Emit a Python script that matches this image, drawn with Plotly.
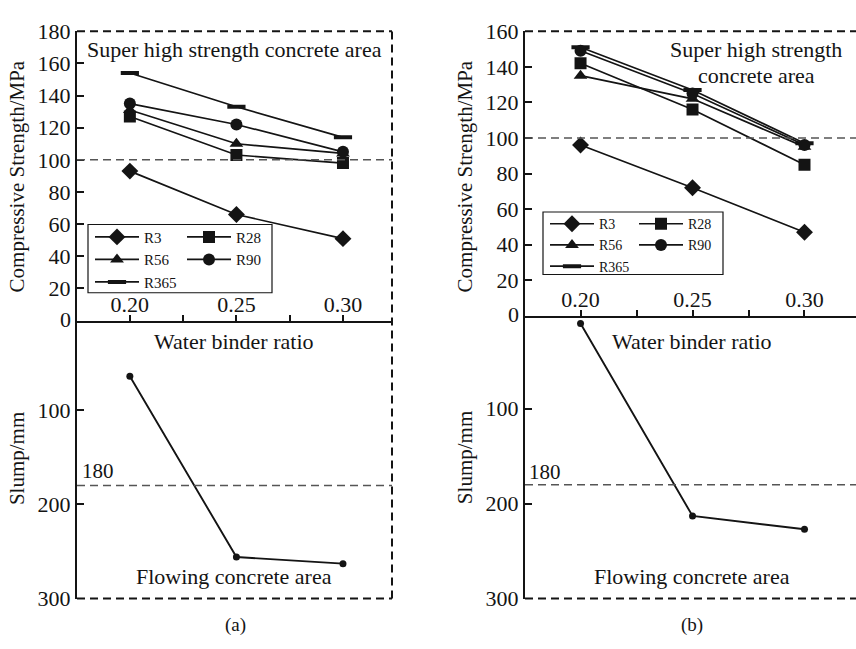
import plotly.graph_objects as go

W, H = 856, 649

# ---------------- data ----------------
wb = [0.20, 0.25, 0.30]
series_names = ["R3", "R28", "R56", "R90", "R365"]
symbols = {"R3": "diamond", "R28": "square", "R56": "triangle-up", "R90": "circle", "R365": "line-ew"}

# panel (a) compressive strength (MPa)
a_R3 = [93, 66, 51]
a_R28 = [127, 103, 98]
a_R56 = [131, 110, 104]
a_R90 = [135, 122, 105]
a_R365 = [154, 133, 114]
# panel (a) slump (mm)
a_slump = [64, 256, 263]

# panel (b) compressive strength (MPa)
b_R3 = [96, 72, 47]
b_R28 = [142, 116, 85]
b_R56 = [135, 122, 95]
b_R90 = [149, 125, 96]
b_R365 = [151, 127, 97]
# panel (b) slump (mm)
b_slump = [10, 213, 227]

strength_limit = 100
slump_limit = 180

a_strength = {"R3": a_R3, "R28": a_R28, "R56": a_R56, "R90": a_R90, "R365": a_R365}
b_strength = {"R3": b_R3, "R28": b_R28, "R56": b_R56, "R90": b_R90, "R365": b_R365}

FONT = "Liberation Serif"
INK = "#141414"

def px_x(p):
    return p / W

def px_y(p):
    return 1 - p / H

fig = go.Figure()

legend_of = {
    ("a", "R3"): "legend", ("a", "R56"): "legend", ("a", "R365"): "legend",
    ("a", "R28"): "legend2", ("a", "R90"): "legend2",
    ("b", "R3"): "legend3", ("b", "R56"): "legend3", ("b", "R365"): "legend3",
    ("b", "R28"): "legend4", ("b", "R90"): "legend4",
}

order = ["R3", "R56", "R365", "R28", "R90"]
for panel, data, xa, ya in [("a", a_strength, "x", "y"), ("b", b_strength, "x3", "y3")]:
    for name in order:
        sym = symbols[name]
        if sym == "line-ew":
            marker = dict(symbol=sym, size=13, color=INK, line=dict(width=4, color=INK))
        else:
            sz = {"diamond": 13, "square": 12, "triangle-up": 12, "circle": 12}[sym]
            marker = dict(symbol=sym, size=sz, color=INK, line=dict(width=0))
        fig.add_trace(go.Scatter(
            x=wb, y=data[name], name=name, mode="lines+markers",
            line=dict(color=INK, width=1.7), marker=marker,
            xaxis=xa, yaxis=ya, legend=legend_of[(panel, name)],
        ))

fig.add_trace(go.Scatter(x=wb, y=a_slump, mode="lines+markers", showlegend=False,
                         line=dict(color=INK, width=1.9), marker=dict(size=7, color=INK),
                         xaxis="x2", yaxis="y2"))
fig.add_trace(go.Scatter(x=wb, y=b_slump, mode="lines+markers", showlegend=False,
                         line=dict(color=INK, width=1.9), marker=dict(size=7, color=INK),
                         xaxis="x4", yaxis="y4"))

# ---------------- axes ----------------
tickfont = dict(family=FONT, size=22, color=INK)
xr = [0.1752, 0.3230]

def x_top(domain):
    return dict(domain=domain, range=xr, showline=True, linecolor=INK, linewidth=2,
                ticks="inside", ticklen=6, tickwidth=2, tickcolor=INK,
                tickmode="linear", tick0=0.2, dtick=0.05, tickformat=".2f",
                ticklabelposition="inside", tickfont=tickfont,
                minor=dict(ticks="inside", ticklen=6, tickwidth=2, tickcolor=INK, dtick=0.025, tick0=0.2),
                showgrid=False, zeroline=False, fixedrange=True)

def x_bot(domain, anchor):
    return dict(domain=domain, range=xr, visible=False, anchor=anchor, fixedrange=True)

def y_axis(domain, rng, vals, anchor):
    return dict(domain=domain, range=rng, showline=True, linecolor=INK, linewidth=2,
                ticks="inside", ticklen=7, tickwidth=2, tickcolor=INK,
                tickmode="array", tickvals=vals, tickfont=tickfont,
                showgrid=False, zeroline=False, anchor=anchor, fixedrange=True)

xa_dom = [px_x(77), px_x(392)]
xb_dom = [px_x(525), 1.0]
ya_top = [px_y(321), px_y(20)]
ya_bot = [px_y(610), px_y(321)]
yb_top = [px_y(316), px_y(20)]
yb_bot = [px_y(610), px_y(316)]

fig.update_layout(
    xaxis=dict(x_top(xa_dom), anchor="y"),
    yaxis=y_axis(ya_top, [0, 180], list(range(0, 181, 20)), "x"),
    xaxis2=x_bot(xa_dom, "y2"),
    yaxis2=y_axis(ya_bot, [300, 5], [100, 200, 300], "x2"),
    xaxis3=dict(x_top(xb_dom), anchor="y3"),
    yaxis3=y_axis(yb_top, [0, 160], list(range(0, 161, 20)), "x3"),
    xaxis4=x_bot(xb_dom, "y4"),
    yaxis4=y_axis(yb_bot, [300, 2], [100, 200, 300], "x4"),
)

# ---------------- legends ----------------
def leg(xpx, ypx, size):
    return dict(x=px_x(xpx), y=px_y(ypx), xanchor="left", yanchor="top", xref="paper", yref="paper",
                bgcolor="rgba(0,0,0,0)", borderwidth=0, font=dict(family=FONT, size=size, color=INK),
                itemwidth=44, tracegroupgap=0, orientation="v")

fig.update_layout(
    legend=leg(90, 217, 15),
    legend2=leg(182, 217, 15),
    legend3=leg(545, 204, 14),
    legend4=leg(634, 204, 14),
)

# ---------------- shapes ----------------
shapes = []
border = dict(color=INK, width=2, dash="8px,5px")
thr = dict(color="#555555", width=1.5, dash="8px,5px")
# panel (a) borders
shapes.append(dict(type="line", xref="x domain", yref="y domain", x0=0, x1=1, y0=1, y1=1, line=border))
shapes.append(dict(type="line", xref="x domain", yref="paper", x0=1, x1=1, y0=px_y(610), y1=px_y(20), line=border))
shapes.append(dict(type="line", xref="x2 domain", yref="y2 domain", x0=0, x1=1, y0=0, y1=0, line=border))
shapes.append(dict(type="line", xref="x domain", yref="y", x0=0, x1=1, y0=strength_limit, y1=strength_limit, line=thr))
shapes.append(dict(type="line", xref="x2 domain", yref="y2", x0=0, x1=1, y0=slump_limit, y1=slump_limit, line=thr))
# panel (b) borders
shapes.append(dict(type="line", xref="x3 domain", yref="y3 domain", x0=0, x1=1, y0=1, y1=1, line=border))
shapes.append(dict(type="line", xref="x4 domain", yref="y4 domain", x0=0, x1=1, y0=0, y1=0, line=border))
shapes.append(dict(type="line", xref="x3 domain", yref="y3", x0=0, x1=1, y0=strength_limit, y1=strength_limit, line=thr))
shapes.append(dict(type="line", xref="x4 domain", yref="y4", x0=0, x1=1, y0=slump_limit, y1=slump_limit, line=thr))
# legend boxes
shapes.append(dict(type="rect", xref="paper", yref="paper", x0=px_x(88), x1=px_x(272), y0=px_y(292), y1=px_y(221),
                   line=dict(color=INK, width=1.2)))
shapes.append(dict(type="rect", xref="paper", yref="paper", x0=px_x(543), x1=px_x(723), y0=px_y(273), y1=px_y(208),
                   line=dict(color=INK, width=1.2)))
fig.update_layout(shapes=shapes)

# ---------------- annotations ----------------
def ann(text, xpx, ypx, size=22, angle=0, xanchor="center"):
    return dict(text=text, x=px_x(xpx), y=px_y(ypx), xref="paper", yref="paper", showarrow=False,
                xanchor=xanchor, yanchor="middle", textangle=angle,
                font=dict(family=FONT, size=size, color=INK))

anns = [
    ann("Super high strength concrete area", 234, 39),
    ann("Compressive Strength/MPa", 17, 171, size=21, angle=-90),
    ann("Slump/mm", 17, 465, size=21, angle=-90),
    ann("Water binder ratio", 234, 343),
    ann("Flowing concrete area", 234, 587),
    ann("180", 98, 477, size=21),
    ann("(a)", 235, 638, size=19),
    ann("0", 73, 320, xanchor="right"),
    ann("Super high strength", 756, 39),
    ann("concrete area", 756, 66),
    ann("Compressive Strength/MPa", 465, 171, size=21, angle=-90),
    ann("Slump/mm", 465, 464, size=21, angle=-90),
    ann("Water binder ratio", 692, 343),
    ann("Flowing concrete area", 692, 587),
    ann("180", 545, 478, size=21),
    ann("(b)", 692, 638, size=19),
    ann("0", 521, 315, xanchor="right"),
]
fig.update_layout(annotations=anns)

fig.update_layout(width=W, height=H, margin=dict(l=0, r=0, t=0, b=0),
                  paper_bgcolor="white", plot_bgcolor="white",
                  font=dict(family=FONT, color=INK), showlegend=True)

fig.write_html("out.html", config={"displayModeBar": False})
